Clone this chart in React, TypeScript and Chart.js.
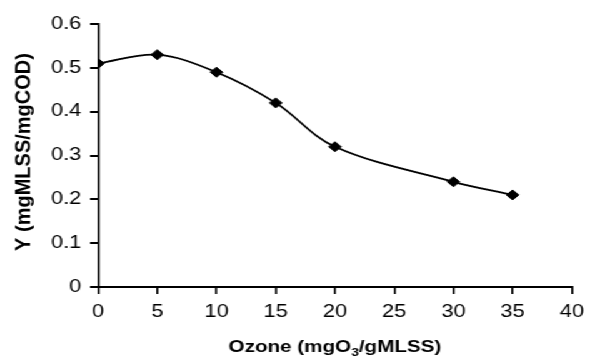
import React, { useEffect, useRef } from "react";
import { Chart, registerables } from "chart.js";

Chart.register(...registerables);

// ---- data ----
const ozoneDose = [0, 5, 10, 15, 20, 30, 35];
const yieldValues = [0.51, 0.53, 0.49, 0.42, 0.32, 0.24, 0.21];
const xTickValues = [0, 5, 10, 15, 20, 25, 30, 35, 40];
const yTickValues = [0, 0.1, 0.2, 0.3, 0.4, 0.5, 0.6];
const xTitleParts = ["Ozone (mgO", "3", "/gMLSS)"];
const yTitle = "Y (mgMLSS/mgCOD)";

// ---- layout ----
const STRETCH = 1.25;
const INNER_W = 594 / STRETCH;
const FONT = '"Liberation Sans", Arial, Helvetica, sans-serif';

const titlePlugin = {
  id: "axisTitles",
  afterDraw(chart: any) {
    const { ctx, chartArea } = chart;
    ctx.save();
    ctx.fillStyle = "#000";
    ctx.textBaseline = "alphabetic";
    ctx.textAlign = "left";
    const big = `bold 16.5px ${FONT}`;
    const small = `bold 11px ${FONT}`;
    ctx.font = big;
    const w1 = ctx.measureText(xTitleParts[0]).width;
    const w3 = ctx.measureText(xTitleParts[2]).width;
    ctx.font = small;
    const w2 = ctx.measureText(xTitleParts[1]).width;
    let x = (chartArea.left + chartArea.right) / 2 - (w1 + w2 + w3) / 2;
    const base = 352;
    ctx.font = big;
    ctx.fillText(xTitleParts[0], x, base);
    x += w1;
    ctx.font = small;
    ctx.fillText(xTitleParts[1], x, base + 4);
    x += w2;
    ctx.font = big;
    ctx.fillText(xTitleParts[2], x, base);
    ctx.restore();

    ctx.save();
    ctx.fillStyle = "#000";
    ctx.translate(24 / STRETCH, 152);
    ctx.scale(1 / STRETCH, 1);
    ctx.rotate(-Math.PI / 2);
    ctx.textAlign = "center";
    ctx.textBaseline = "middle";
    ctx.font = `bold 20px ${FONT}`;
    ctx.fillText(yTitle, 0, 0);
    ctx.restore();
  },
};

export default function App() {
  const ref = useRef<HTMLCanvasElement | null>(null);
  useEffect(() => {
    if (!ref.current) return;
    const chart = new Chart(ref.current, {
      type: "line",
      data: {
        datasets: [
          {
            data: ozoneDose.map((d, i) => ({ x: d, y: yieldValues[i] })),
            borderColor: "#000",
            backgroundColor: "#000",
            borderWidth: 1.8,
            tension: 0.35,
            pointStyle: "rectRot",
            pointRadius: 5,
            pointBorderWidth: 1,
            pointBackgroundColor: "#000",
            pointBorderColor: "#000",
            fill: false,
          },
        ],
      },
      options: {
        animation: false,
        responsive: true,
        maintainAspectRatio: false,
        layout: { padding: { left: 0, top: 24, right: INNER_W - 576 / STRETCH, bottom: 0 } },
        plugins: { legend: { display: false }, tooltip: { enabled: false } },
        scales: {
          x: {
            type: "linear",
            min: 0,
            max: 40,
            afterBuildTicks: (s: any) => {
              s.ticks = xTickValues.map((v) => ({ value: v }));
            },
            afterFit: (s: any) => {
              s.height = 361 - 287;
            },
            grid: { drawOnChartArea: false, drawTicks: true, tickLength: 7, color: "#000", lineWidth: 1.6 },
            border: { display: true, color: "#000", width: 2 },
            ticks: {
              color: "#000",
              padding: 8,
              maxRotation: 0,
              font: { family: FONT, size: 17.5 },
              callback: (v: any) => String(v),
            },
          },
          y: {
            min: 0,
            max: 0.6,
            afterBuildTicks: (s: any) => {
              s.ticks = yTickValues.map((v) => ({ value: v }));
            },
            afterFit: (s: any) => {
              s.width = 98 / STRETCH;
            },
            grid: { drawOnChartArea: false, drawTicks: true, tickLength: 6.4, color: "#000", lineWidth: 2 },
            border: { display: true, color: "#000", width: 1.6 },
            ticks: {
              color: "#000",
              padding: 7,
              font: { family: FONT, size: 17.5 },
              callback: (v: any) => String(+Number(v).toFixed(1)),
            },
          },
        },
      },
      plugins: [titlePlugin],
    });
    return () => chart.destroy();
  }, []);

  return (
    <div
      style={{
        position: "fixed",
        left: 0,
        top: 0,
        width: INNER_W + "px",
        height: "361px",
        transform: `scaleX(${STRETCH})`,
        transformOrigin: "0 0",
        background: "#fff",
      }}
    >
      <canvas ref={ref} />
    </div>
  );
}
